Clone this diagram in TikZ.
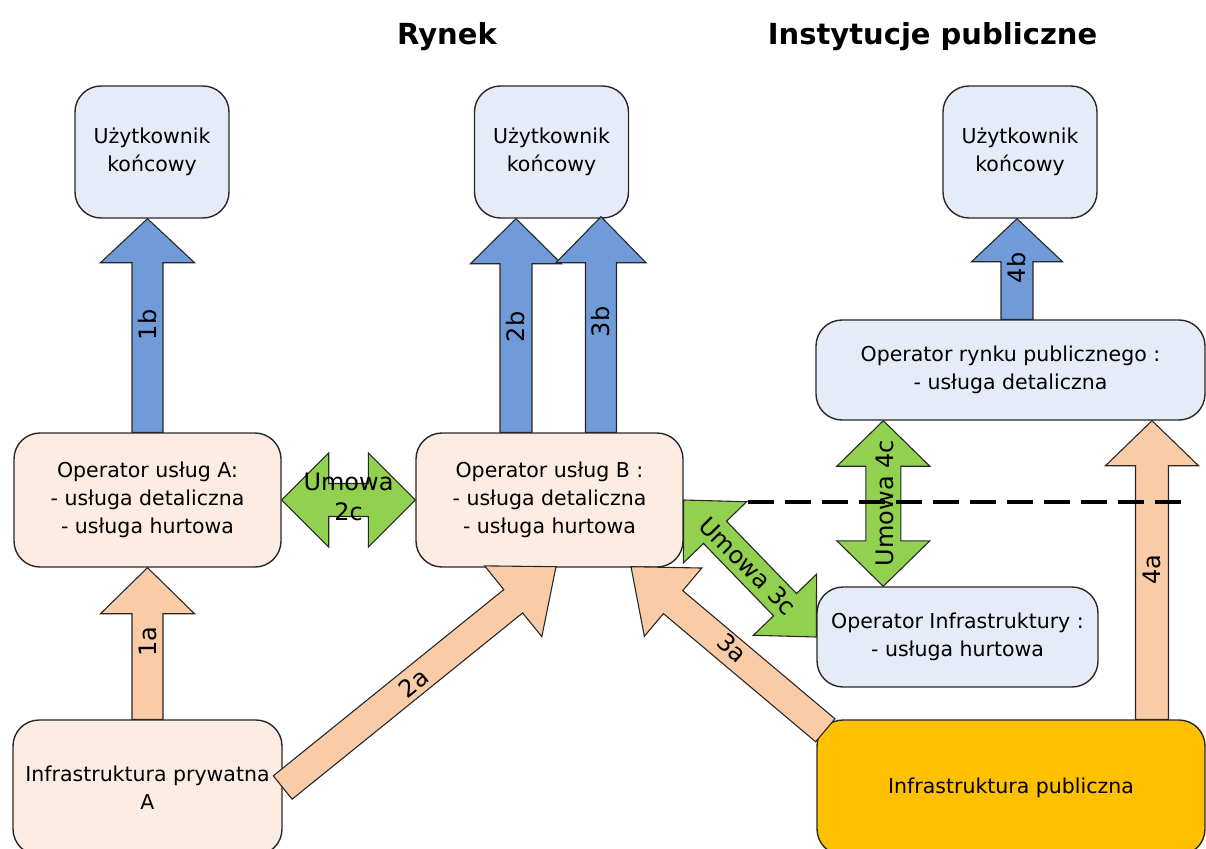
\documentclass[tikz,border=0pt]{standalone}
\usepackage{fontspec}
\setmainfont{DejaVu Sans}
\usetikzlibrary{calc}

\definecolor{boxblue}{RGB}{230,236,247}
\definecolor{boxpeach}{RGB}{252,236,225}
\definecolor{arrblue}{RGB}{112,155,216}
\definecolor{arrpeach}{RGB}{249,203,166}
\definecolor{arrgreen}{RGB}{146,208,80}
\definecolor{infyellow}{RGB}{255,192,0}
\definecolor{edgegray}{RGB}{40,40,40}

\tikzset{
  box/.style={draw=edgegray, line width=1.4pt, rounded corners=26pt, align=center,
    inner sep=0pt, font=\fontsize{20.5}{28}\selectfont},
  userbox/.style={box, fill=boxblue, minimum width=154pt, minimum height=132pt},
  blockline/.style={draw=edgegray, line width=1.1pt, line join=miter},
  arrlabel/.style={font=\fontsize{24}{30}\selectfont, inner sep=0pt, align=center},
  titletext/.style={font=\fontsize{29}{34}\selectfont\bfseries, anchor=base},
  divider/.style={line width=4pt, dash pattern=on 26pt off 11pt}
}

% single block arrow: #1 fill, #2 start, #3 tip, #4 shaft half-width, #5 head half-width, #6 head length
\newcommand\blkarrow[6]{%
  \coordinate (ba-s) at (#2);
  \coordinate (ba-t) at (#3);
  \coordinate (ba-b) at ($(ba-t)!#6!(ba-s)$);
  \filldraw[blockline, fill=#1]
    ($(ba-s)!#4!90:(ba-t)$) -- ($(ba-b)!#4!-90:(ba-s)$) -- ($(ba-b)!#5!-90:(ba-s)$) -- (ba-t)
    -- ($(ba-b)!#5!90:(ba-s)$) -- ($(ba-b)!#4!90:(ba-s)$) -- ($(ba-s)!#4!-90:(ba-t)$) -- cycle;
}

% double-headed block arrow between two tips #2 and #3
\newcommand\dblblkarrow[6]{%
  \coordinate (da-a) at (#2);
  \coordinate (da-b) at (#3);
  \coordinate (da-1) at ($(da-a)!#6!(da-b)$);
  \coordinate (da-2) at ($(da-b)!#6!(da-a)$);
  \filldraw[blockline, fill=#1] (da-a)
    -- ($(da-1)!#5!90:(da-b)$) -- ($(da-1)!#4!90:(da-b)$)
    -- ($(da-2)!#4!-90:(da-a)$) -- ($(da-2)!#5!-90:(da-a)$) -- (da-b)
    -- ($(da-2)!#5!90:(da-a)$) -- ($(da-2)!#4!90:(da-a)$)
    -- ($(da-1)!#4!-90:(da-b)$) -- ($(da-1)!#5!-90:(da-b)$) -- cycle;
}

\begin{document}
\begin{tikzpicture}[x=1pt, y=-1pt]
\useasboundingbox (0,0) rectangle (1206,848);
\clip (0,0) rectangle (1206,848);

% column titles
\node[titletext] (tRynek) at (447,45) {Rynek};
\node[titletext] (tInst) at (932.5,45) {Instytucje publiczne};

% end users
\node[userbox] (userA) at (152,152) {Użytkownik\\końcowy};
\node[userbox] (userB) at (551.5,152) {Użytkownik\\końcowy};
\node[userbox] (userC) at (1020,152) {Użytkownik\\końcowy};

% operators
\node[box, fill=boxpeach, minimum width=267pt, minimum height=134pt] (opA) at (147.5,500)
  {Operator usług A:\\- usługa detaliczna\\- usługa hurtowa};
\node[box, fill=boxpeach, minimum width=267pt, minimum height=134pt] (opB) at (549.5,500)
  {Operator usług B :\\- usługa detaliczna\\- usługa hurtowa};
\node[box, fill=boxblue, minimum width=389pt, minimum height=100pt] (opRynek) at (1010.5,370)
  {Operator rynku publicznego :\\- usługa detaliczna};
\node[box, fill=boxblue, minimum width=281pt, minimum height=100pt] (opInfra) at (957.5,637)
  {Operator Infrastruktury :\\- usługa hurtowa};

% infrastructure
\node[box, fill=boxpeach, minimum width=269pt, minimum height=135pt] (infA) at (147.5,787.5)
  {Infrastruktura prywatna\\A};
\node[box, fill=infyellow, minimum width=388pt, minimum height=135pt] (infPub) at (1011,787.5)
  {Infrastruktura publiczna};

% arrow end points
\coordinate (b1t) at (opA.north |- userA.south);
\coordinate (b2s) at ($(opB.north)+(-33.5,0)$);
\coordinate (b2t) at (b2s |- userB.south);
\coordinate (b3s) at ($(opB.north)+(51.5,0)$);
\coordinate (b3t) at ($(b3s |- userB.south)+(0,-2)$);
\coordinate (b4s) at ($(opRynek.north)+(6.5,0)$);
\coordinate (b4t) at (b4s |- userC.south);
\coordinate (a4s) at ($(infPub.north)+(141,0)$);
\coordinate (a4t) at (a4s |- opRynek.south);
\coordinate (a2t) at ($(opB.south)+(6.5,-1)$);
\coordinate (a3s) at ($(infPub.north west)+(9,11)$);
\coordinate (a3t) at ($(opB.south)+(81.5,-1)$);
\coordinate (c4b) at ($(opInfra.north west)+(67,0)$);
\coordinate (c4t) at (c4b |- opRynek.south);
\coordinate (dashS) at ($(opB.east)+(64,2)$);
\coordinate (dashE) at (1188,502);

% service flows to end users
\blkarrow{arrblue}{opA.north}{b1t}{15.5pt}{47pt}{44pt}
\blkarrow{arrblue}{b2s}{b2t}{16pt}{45.5pt}{45pt}
\blkarrow{arrblue}{b3s}{b3t}{15.5pt}{45pt}{46pt}
\blkarrow{arrblue}{b4s}{b4t}{16pt}{45.5pt}{43pt}

% infrastructure access
\blkarrow{arrpeach}{infA.north}{opA.south}{15.5pt}{47pt}{46pt}
\blkarrow{arrpeach}{a4s}{a4t}{16.5pt}{46.5pt}{45pt}
\blkarrow{arrpeach}{infA.east}{a2t}{15pt}{45.5pt}{55pt}
\blkarrow{arrpeach}{a3s}{a3t}{15pt}{44.6pt}{55pt}

% agreements
\dblblkarrow{arrgreen}{opA.east}{opB.west}{16.5pt}{47pt}{47pt}
\dblblkarrow{arrgreen}{opB.east}{opInfra.west}{16pt}{44pt}{45pt}
\dblblkarrow{arrgreen}{c4t}{c4b}{17.5pt}{46.5pt}{45.5pt}

% arrow labels
\node[arrlabel, rotate=90] (l1b) at (147.5,325) {1b};
\node[arrlabel, rotate=90] (l2b) at (516,327) {2b};
\node[arrlabel, rotate=90] (l3b) at (601,322) {3b};
\node[arrlabel, rotate=90] (l4b) at (1017,268) {4b};
\node[arrlabel, rotate=90] (l1a) at (147.5,642) {1a};
\node[arrlabel, rotate=90] (l4a) at (1152,570) {4a};
\node[arrlabel, rotate=39.3] (l2a) at (414,683) {2a};
\node[arrlabel, rotate=-41.6] (l3a) at (732,648) {3a};
\node[arrlabel] (l2c) at (348.5,497) {Umowa\\2c};
\node[arrlabel, rotate=-45.4] (l3c) at (748,566) {Umowa 3c};
\node[arrlabel, rotate=90] (l4c) at (884.5,503) {Umowa 4c};

% boundary between market and public institutions
\draw[divider] (dashS) -- (dashE);
\end{tikzpicture}
\end{document}
